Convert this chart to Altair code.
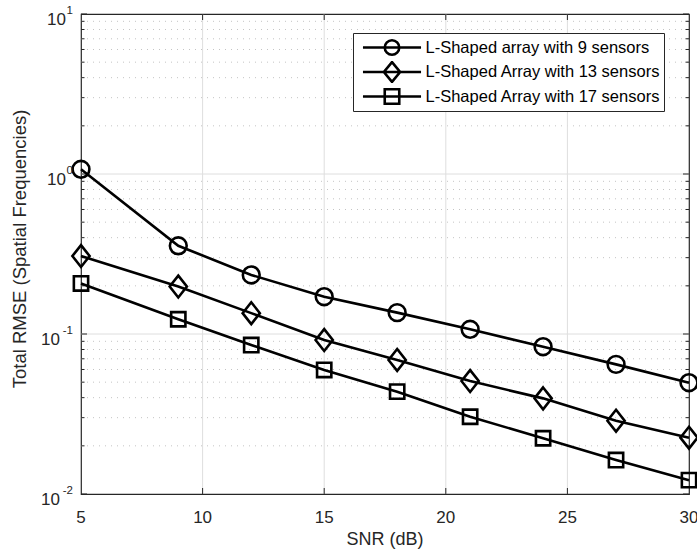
import altair as alt
import pandas as pd

# ---------------- data ----------------
snr = [5, 9, 12, 15, 18, 21, 24, 27, 30]
rmse_9 = [1.07, 0.356, 0.234, 0.171, 0.136, 0.107, 0.0833, 0.0646, 0.0496]
rmse_13 = [0.307, 0.198, 0.135, 0.0917, 0.0688, 0.0508, 0.0396, 0.0287, 0.0225]
rmse_17 = [0.207, 0.1236, 0.0853, 0.0596, 0.0436, 0.0304, 0.0223, 0.0163, 0.0122]
series_names = [
    "L-Shaped array with 9 sensors",
    "L-Shaped Array with 13 sensors",
    "L-Shaped Array with 17 sensors",
]
x_tick_values = [5, 10, 15, 20, 25, 30]
x_grid_values = [10, 15, 20, 25]
y_decades = [0.01, 0.1, 1, 10]
y_exponents = ["-2", "-1", "0", "1"]
y_grid_values = [0.1, 1]
minor_mult = [2, 3, 4, 5, 6, 7, 8, 9]
minor_decades = [0.01, 0.1, 1]
x_title = "SNR (dB)"
y_title = "Total RMSE (Spatial Frequencies)"

# ---------------- tables ----------------
rows = []
for name, vals in zip(series_names, [rmse_9, rmse_13, rmse_17]):
    for s, v in zip(snr, vals):
        rows.append({"snr": s, "rmse": v, "series": name})
df = pd.DataFrame(rows)

minor_df = pd.DataFrame({"v": [m * d for d in minor_decades for m in minor_mult]})
major_y_df = pd.DataFrame({"v": y_decades})
ygrid_df = pd.DataFrame({"v": y_grid_values})
xgrid_df = pd.DataFrame({"v": x_grid_values})
xlab_df = pd.DataFrame({"v": x_tick_values, "t": [str(v) for v in x_tick_values]})
ylab_df = pd.DataFrame({"v": y_decades, "base": ["10"] * 4, "exp": y_exponents})
xtitle_df = pd.DataFrame({"t": [x_title]})
ytitle_df = pd.DataFrame({"t": [y_title]})

FONT = "Liberation Sans"
AX = "#262626"

xs = alt.Scale(domain=[5, 30], nice=False, zero=False)
ys = alt.Scale(type="log", domain=[0.01, 10], nice=False)

# marker shapes (custom symbol paths)
plot_shapes = [
    "M-0.8,0A0.8,0.8,0,1,0,0.8,0A0.8,0.8,0,1,0,-0.8,0Z",
    "M0,-1.04L0.82,0L0,1.04L-0.82,0Z",
    "M-0.68,-0.68L0.68,-0.68L0.68,0.68L-0.68,0.68Z",
]
# legend symbols: unit = 11 px, line spans 58 px
legend_shapes = [
    "M-2.64,0L2.64,0M-0.66,0A0.66,0.66,0,1,0,0.66,0A0.66,0.66,0,1,0,-0.66,0Z",
    "M-2.64,0L2.64,0M0,-0.9L0.74,0L0,0.9L-0.74,0Z",
    "M-2.64,0L2.64,0M-0.66,-0.66L0.66,-0.66L0.66,0.66L-0.66,0.66Z",
]

XD5 = alt.XDatum(5, type="quantitative", scale=xs, axis=None)

# ---------------- grid ----------------
minor_grid = alt.Chart(minor_df).mark_rule(
    color="#c4c4c4", strokeWidth=1, strokeDash=[1, 5]
).encode(y=alt.Y("v:Q", scale=ys, axis=None), x=XD5, x2=alt.X2Datum(30))
ygrid = alt.Chart(ygrid_df).mark_rule(color="#dedede", strokeWidth=1).encode(
    y=alt.Y("v:Q", scale=ys, axis=None), x=XD5, x2=alt.X2Datum(30)
)
xgrid = alt.Chart(xgrid_df).mark_rule(color="#dedede", strokeWidth=1).encode(
    x=alt.X("v:Q", scale=xs, axis=None),
    y=alt.YDatum(0.01, type="quantitative", scale=ys, axis=None),
    y2=alt.Y2Datum(10),
)

# ---------------- ticks (inside, MATLAB style) ----------------
def ytick(df_, x0, x1):
    return alt.Chart(df_).mark_rule(color=AX, strokeWidth=1).encode(
        y=alt.Y("v:Q", scale=ys, axis=None), x=alt.value(x0), x2=alt.value(x1)
    )

def xtick(df_, y0, y1):
    return alt.Chart(df_).mark_rule(color=AX, strokeWidth=1).encode(
        x=alt.X("v:Q", scale=xs, axis=None), y=alt.value(y0), y2=alt.value(y1)
    )

ticks = [
    ytick(minor_df, 0, 3.5), ytick(minor_df, 604.5, 608),
    ytick(major_y_df, 0, 6), ytick(major_y_df, 602, 608),
    xtick(xgrid_df, 474, 480), xtick(xgrid_df, 0, 6),
]

# ---------------- data ----------------
lines = alt.Chart(df).mark_line(color="black", strokeWidth=2.6).encode(
    x=alt.X("snr:Q", scale=xs, axis=None),
    y=alt.Y("rmse:Q", scale=ys, axis=None),
    detail="series:N",
)

points = alt.Chart(df).mark_point(
    filled=False, color="black", strokeWidth=2.6, size=441, opacity=1
).encode(
    x=alt.X("snr:Q", scale=xs, axis=None),
    y=alt.Y("rmse:Q", scale=ys, axis=None),
    shape=alt.Shape(
        "series:N", scale=alt.Scale(domain=series_names, range=plot_shapes), legend=None
    ),
)

legend_layer = alt.Chart(df).mark_point(
    filled=False, color="black", strokeWidth=2.6, opacity=0
).encode(
    x=alt.X("snr:Q", scale=xs, axis=None),
    y=alt.Y("rmse:Q", scale=ys, axis=None),
    shape=alt.Shape(
        "series:N",
        scale=alt.Scale(domain=series_names, range=legend_shapes),
        legend=alt.Legend(
            title=None, orient="none", legendX=272, legendY=19, direction="vertical",
            padding=3.5, rowPadding=2.5, clipHeight=22, symbolSize=484,
            symbolStrokeWidth=2.6, symbolStrokeColor="black",
            symbolFillColor="transparent", symbolOpacity=1,
            symbolOffset=23, labelOffset=21, labelFontSize=16.5, labelFont=FONT,
            labelColor="black", labelLimit=500, strokeColor=AX, fillColor="white",
            cornerRadius=0,
        ),
    ),
)

# ---------------- tick labels and titles ----------------
def ylab(filter_expr, base_dx):
    return alt.Chart(ylab_df).transform_filter(filter_expr).mark_text(
        align="right", baseline="middle", dx=base_dx, dy=5.5, fontSize=17, font=FONT, color=AX
    ).encode(x=XD5, y=alt.Y("v:Q", scale=ys, axis=None), text="base:N")

exp_text = alt.Chart(ylab_df).mark_text(
    align="right", baseline="middle", dx=-8, dy=-3, fontSize=11.5, font=FONT, color=AX
).encode(x=XD5, y=alt.Y("v:Q", scale=ys, axis=None), text="exp:N")

xlab = alt.Chart(xlab_df).mark_text(
    align="center", baseline="middle", dy=23.5, fontSize=17, font=FONT, color=AX
).encode(
    x=alt.X("v:Q", scale=xs, axis=None),
    y=alt.YDatum(0.01, type="quantitative", scale=ys, axis=None),
    text="t:N",
)

xtitle = alt.Chart(xtitle_df).mark_text(
    align="center", baseline="middle", dy=46, fontSize=18, font=FONT, color=AX
).encode(
    x=alt.XDatum(17.5, type="quantitative", scale=xs, axis=None),
    y=alt.YDatum(0.01, type="quantitative", scale=ys, axis=None),
    text="t:N",
)

ytitle = alt.Chart(ytitle_df).mark_text(
    align="center", baseline="middle", angle=270, dy=-61, fontSize=18.5, font=FONT, color=AX
).encode(
    x=XD5,
    y=alt.YDatum(0.34, type="quantitative", scale=ys, axis=None),
    text="t:N",
)

chart = alt.layer(
    minor_grid, ygrid, xgrid, *ticks, lines, points, legend_layer,
    ylab("datum.v >= 1", -15), ylab("datum.v < 1", -21), exp_text,
    xlab, xtitle, ytitle,
).resolve_scale(shape="independent").properties(
    width=608, height=480,
    autosize=alt.AutoSizeParams(type="none"),
    padding={"left": 81, "top": 14, "right": 8, "bottom": 60},
).configure(font=FONT).configure_view(stroke=AX, strokeWidth=1.2)

chart.save("out.html", embed_options={"renderer": "svg", "actions": False})
